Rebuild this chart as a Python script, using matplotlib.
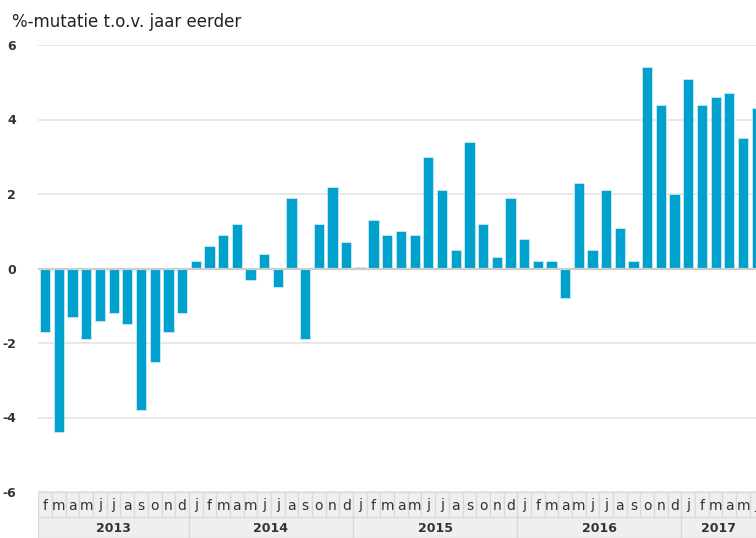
import numpy as np
import matplotlib.pyplot as plt
from matplotlib.patches import Rectangle

# maanden feb 2013 t/m jun 2017
months = (['f', 'm', 'a', 'm', 'j', 'j', 'a', 's', 'o', 'n', 'd']
          + ['j', 'f', 'm', 'a', 'm', 'j', 'j', 'a', 's', 'o', 'n', 'd'] * 3
          + ['j', 'f', 'm', 'a', 'm', 'j'])
years = ['2013', '2014', '2015', '2016', '2017']
year_counts = [11, 12, 12, 12, 6]

values = [
    -1.7, -4.4, -1.3, -1.9, -1.4, -1.2, -1.5, -3.8, -2.5, -1.7, -1.2,
    0.2, 0.6, 0.9, 1.2, -0.3, 0.4, -0.5, 1.9, -1.9, 1.2, 2.2, 0.7,
    0.05, 1.3, 0.9, 1.0, 0.9, 3.0, 2.1, 0.5, 3.4, 1.2, 0.3, 1.9,
    0.8, 0.2, 0.2, -0.8, 2.3, 0.5, 2.1, 1.1, 0.2, 5.4, 4.4, 2.0,
    5.1, 4.4, 4.6, 4.7, 3.5, 4.3,
]
y_ticks = [-6, -4, -2, 0, 2, 4, 6]

W, H = 756, 538
fig = plt.figure(figsize=(W / 100, H / 100), dpi=100)

# plotgebied
ax = fig.add_axes([38 / W, 46 / H, 718 / W, 447 / H])
x = np.arange(len(values))
xlim = (-0.53, 51.95)

for t in y_ticks:
    if t == 0:
        continue
    ax.axhline(t, color='#e6e6e6', linewidth=1.3, zorder=0)
ax.bar(x, values, width=0.75, color='#00a1cd', edgecolor='#d8eff7',
       linewidth=0.5, zorder=2)
ax.axhline(0, color='#cccccc', linewidth=1.6, zorder=3)

ax.set_xlim(xlim)
ax.set_ylim(-6, 6)
ax.set_xticks([])
ax.set_yticks(y_ticks)
ax.set_yticklabels([str(t) for t in y_ticks], fontsize=9, fontweight='bold',
                   color='#333333')
ax.tick_params(axis='y', length=0, pad=16)
for s in ax.spines.values():
    s.set_visible(False)

# categorie-as met maanden en jaren
axc = fig.add_axes([38 / W, 0, 718 / W, 46 / H])
axc.set_xlim(xlim)
axc.set_ylim(0, 46)
axc.axis('off')

for i, m in enumerate(months):
    axc.add_patch(Rectangle((i - 0.5, 21), 1, 25, facecolor='#efefef',
                            edgecolor='#d9d9d9', linewidth=0.9))
    axc.text(i, 32.5, m, ha='center', va='center', fontsize=10,
             color='#333333')

start = 0
for yr, n in zip(years, year_counts):
    axc.add_patch(Rectangle((start - 0.5, 0), n, 21, facecolor='#efefef',
                            edgecolor='#d9d9d9', linewidth=0.9))
    lo = max(start - 0.5, xlim[0])
    hi = min(start + n - 0.5, xlim[1])
    axc.text((lo + hi) / 2, 10, yr, ha='center', va='center', fontsize=9,
             fontweight='bold', color='#333333')
    start += n

fig.text(12 / W, 1 - 27 / H, '%-mutatie t.o.v. jaar eerder', fontsize=12,
         color='#222222', va='baseline', ha='left')

fig.savefig('out.png', dpi=100)
